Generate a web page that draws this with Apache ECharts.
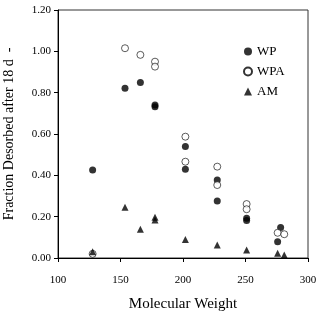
<!DOCTYPE html>
<html><head><meta charset="utf-8">
<script src="https://cdn.jsdelivr.net/npm/echarts@6/dist/echarts.min.js"></script>
<style>html,body{margin:0;padding:0;background:#fff}#c{width:318px;height:313px}</style>
</head><body><div id="c"></div>
<script>
var wpMW  = [127.7, 153.6, 165.9, 177.6, 177.6, 201.9, 201.9, 227.4, 227.4, 250.9, 250.9, 278.1, 275.7];
var wpVal = [0.426, 0.821, 0.849, 0.740, 0.732, 0.539, 0.429, 0.377, 0.276, 0.192, 0.181, 0.148, 0.079];
var wpaMW  = [127.7, 153.6, 165.9, 177.6, 177.6, 201.9, 201.9, 227.4, 227.4, 250.9, 250.9, 275.7, 281.0];
var wpaVal = [0.020, 1.015, 0.983, 0.950, 0.926, 0.587, 0.466, 0.442, 0.353, 0.261, 0.236, 0.122, 0.115];
var amMW  = [127.7, 153.6, 165.9, 177.6, 177.6, 201.9, 227.4, 250.9, 275.7, 281.0];
var amVal = [0.030, 0.245, 0.139, 0.197, 0.184, 0.090, 0.063, 0.039, 0.023, 0.015];
var xTicks = [100, 150, 200, 250, 300];
var yTicks = [0, 0.2, 0.4, 0.6, 0.8, 1.0, 1.2];

function pairs(xs, ys){ return xs.map(function(x,i){ return [x, ys[i]]; }); }
var font = '"Liberation Serif", "Times New Roman", serif';
var chart = echarts.init(document.getElementById('c'));
chart.setOption({
  animation: false,
  textStyle: {fontFamily: font},
  grid: {left: 58, right: 10, top: 10, bottom: 55, show: true, borderColor: '#333', borderWidth: 1,
         containLabel: false, outerBoundsMode: 'none'},
  legend: {
    orient: 'vertical', left: 238, top: 40, itemWidth: 8, itemHeight: 8, itemGap: 7,
    textStyle: {fontFamily: font, fontSize: 13, color: '#000'},
    data: ['WP', 'WPA', 'AM']
  },
  xAxis: {
    type: 'value', min: xTicks[0], max: xTicks[xTicks.length-1], interval: 50,
    name: 'Molecular Weight', nameLocation: 'middle', nameGap: 39,
    nameTextStyle: {fontFamily: font, fontSize: 15, color: '#000'},
    axisLine: {lineStyle: {color: '#000'}},
    axisTick: {show: true, inside: false, length: 4, lineStyle: {color: '#000'}},
    axisLabel: {fontFamily: font, fontSize: 11, color: '#000', margin: 17},
    splitLine: {show: false}
  },
  yAxis: {
    type: 'value', min: yTicks[0], max: yTicks[yTicks.length-1], interval: 0.2,
    name: 'Fraction Desorbed after 18 d  -', nameLocation: 'middle', nameGap: 42,
    nameTextStyle: {fontFamily: font, fontSize: 14, color: '#000'},
    axisLine: {show: true, lineStyle: {color: '#000'}},
    axisTick: {show: true, length: 4, lineStyle: {color: '#000'}},
    axisLabel: {fontFamily: font, fontSize: 11, color: '#000', margin: 7,
      formatter: function(v){ return v.toFixed(2); }},
    splitLine: {show: false}
  },
  series: [
    {name: 'WP', type: 'scatter', symbol: 'circle', symbolSize: 7,
     itemStyle: {color: '#000'}, data: pairs(wpMW, wpVal)},
    {name: 'WPA', type: 'scatter', symbol: 'circle', symbolSize: 7,
     itemStyle: {color: '#fff', borderColor: '#000', borderWidth: 0.8}, data: pairs(wpaMW, wpaVal)},
    {name: 'AM', type: 'scatter', symbol: 'triangle', symbolSize: 7,
     itemStyle: {color: '#000'}, data: pairs(amMW, amVal)}
  ]
});
</script></body></html>
